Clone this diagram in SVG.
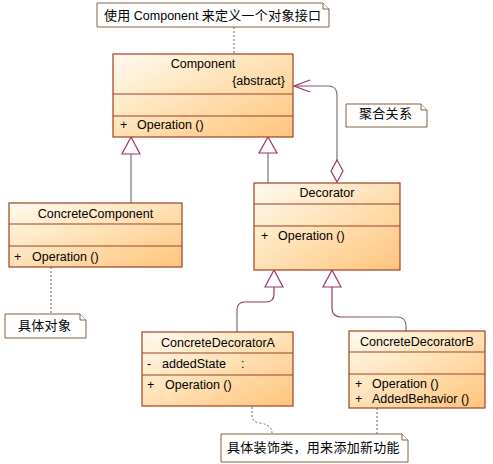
<svg xmlns="http://www.w3.org/2000/svg" width="493" height="464" viewBox="0 0 493 464">
<defs>
<linearGradient id="fill" x1="0" y1="0" x2="1" y2="1">
<stop offset="0" stop-color="#FFFAF0"/>
<stop offset="0.4" stop-color="#FFE6C0"/>
<stop offset="1" stop-color="#FFC47C"/>
</linearGradient>
<linearGradient id="gA" gradientUnits="userSpaceOnUse" x1="0" y1="287" x2="0" y2="332">
<stop offset="0" stop-color="#99336B"/><stop offset="0.4" stop-color="#99336B"/><stop offset="0.7" stop-color="#777"/><stop offset="1" stop-color="#777"/>
</linearGradient>
<linearGradient id="gB" gradientUnits="userSpaceOnUse" x1="332" y1="0" x2="406" y2="0">
<stop offset="0" stop-color="#99336B"/><stop offset="1" stop-color="#777"/>
</linearGradient>
<linearGradient id="gAgg" gradientUnits="userSpaceOnUse" x1="295" y1="0" x2="337" y2="0">
<stop offset="0" stop-color="#99336B"/><stop offset="1" stop-color="#777"/>
</linearGradient>
</defs>
<style>
.box{fill:url(#fill);stroke:#A0401E;stroke-width:1.2}
.sep{stroke:#A0401E;stroke-width:1.2}
.t{font-family:"Liberation Sans",Arial,sans-serif;font-size:12.5px;fill:#000}
.c{font-family:"Noto Sans CJK SC","Liberation Sans",sans-serif;font-size:13px;fill:#000;letter-spacing:0.3px}
.note{fill:#fff;stroke:#806040;stroke-width:1}
.line{fill:none;stroke:#777;stroke-width:1.2}
.tri{fill:#fff;stroke:#99336B;stroke-width:1.2}
.dot{fill:none;stroke:#666;stroke-width:1;stroke-dasharray:2,2}
</style>
<g id="connectors">
<line class="dot" x1="234" y1="27" x2="234" y2="54"/>
<line class="dot" x1="51" y1="267" x2="51" y2="314"/>
<path class="dot" d="M252 407 L252 416 Q252 422 260 423 Q272 425 272 433"/>
<line class="dot" x1="377" y1="408" x2="377" y2="434"/>
<line class="line" x1="131" y1="154" x2="131" y2="203"/>
<polygon class="tri" points="131,137 122,154 140,154"/>
<line class="line" x1="268" y1="153" x2="268" y2="183"/>
<polygon class="tri" points="268,137 259,153 277,153"/>
<path d="M274 287 L274 294 Q274 302 266 302 L245 302 Q237 302 237 310 L237 332" fill="none" stroke="url(#gA)" stroke-width="1.2"/>
<polygon class="tri" points="274,270 265,287 283,287"/>
<path d="M332 287 L332 308 Q332 317 341 317 L397 317 Q406 317 406 326 L406 331" fill="none" stroke="url(#gB)" stroke-width="1.2"/>
<polygon class="tri" points="332,270 323,287 341,287"/>
<path d="M294 86 L328 86 Q337 86 337 95 L337 160" fill="none" stroke="url(#gAgg)" stroke-width="1.2"/>
<polyline points="310,80 294,86 310,92" fill="none" stroke="#99336B" stroke-width="1.2"/>
<polygon points="337,160 343,171 337,182 331,171" fill="#fff" stroke="#99336B" stroke-width="1.2"/>
</g>
<g id="note-top">
<path class="note" d="M97 3 H323 L329 9 V27 H97 Z"/>
<path class="note" d="M323 3 V9 H329" fill="none"/>
<text x="104" y="20"><tspan class="c">使用 </tspan><tspan class="t">Component</tspan><tspan class="c"> 来定义一个对象接口</tspan></text>
</g>
<g id="Component">
<rect class="box" x="113" y="54" width="180" height="83"/>
<line class="sep" x1="113" y1="94" x2="293" y2="94"/>
<line class="sep" x1="113" y1="116" x2="293" y2="116"/>
<text class="t" x="203" y="68" text-anchor="middle">Component</text>
<text class="t" x="285" y="85" text-anchor="end">{abstract}</text>
<text class="t" x="120" y="129">+</text>
<text class="t" x="137" y="129">Operation ()</text>
</g>
<g id="note-agg">
<path class="note" d="M346 104 H421 L427 110 V127 H346 Z"/>
<path class="note" d="M421 104 V110 H427" fill="none"/>
<text class="c" x="359" y="118">聚合关系</text>
</g>
<g id="ConcreteComponent">
<rect class="box" x="9" y="203" width="173" height="64"/>
<line class="sep" x1="9" y1="224" x2="182" y2="224"/>
<line class="sep" x1="9" y1="246" x2="182" y2="246"/>
<text class="t" x="95.5" y="218" text-anchor="middle">ConcreteComponent</text>
<text class="t" x="14" y="261">+</text>
<text class="t" x="32" y="261">Operation ()</text>
</g>
<g id="Decorator">
<rect class="box" x="254" y="183" width="146" height="87"/>
<line class="sep" x1="254" y1="204" x2="400" y2="204"/>
<line class="sep" x1="254" y1="226" x2="400" y2="226"/>
<text class="t" x="327" y="197" text-anchor="middle">Decorator</text>
<text class="t" x="261" y="240">+</text>
<text class="t" x="278" y="240">Operation ()</text>
</g>
<g id="note-concrete">
<path class="note" d="M5 314 H80 L86 320 V338 H5 Z"/>
<path class="note" d="M80 314 V320 H86" fill="none"/>
<text class="c" x="18" y="330">具体对象</text>
</g>
<g id="ConcreteDecoratorA">
<rect class="box" x="142" y="332" width="151" height="74"/>
<line class="sep" x1="142" y1="353" x2="293" y2="353"/>
<line class="sep" x1="142" y1="375" x2="293" y2="375"/>
<text class="t" x="218" y="347" text-anchor="middle">ConcreteDecoratorA</text>
<text class="t" x="147" y="368">-</text>
<text class="t" x="162" y="368">addedState</text>
<text class="t" x="241" y="368">:</text>
<text class="t" x="147" y="389">+</text>
<text class="t" x="165" y="389">Operation ()</text>
</g>
<g id="ConcreteDecoratorB">
<rect class="box" x="349" y="331" width="136" height="77"/>
<line class="sep" x1="349" y1="352" x2="485" y2="352"/>
<line class="sep" x1="349" y1="374" x2="485" y2="374"/>
<text class="t" x="417" y="346" text-anchor="middle">ConcreteDecoratorB</text>
<text class="t" x="355" y="388">+</text>
<text class="t" x="372" y="388">Operation ()</text>
<text class="t" x="355" y="403">+</text>
<text class="t" x="372" y="403">AddedBehavior ()</text>
</g>
<g id="note-decorators">
<path class="note" d="M221 434 H402 L408 440 V462 H221 Z"/>
<path class="note" d="M402 434 V440 H408" fill="none"/>
<text class="c" x="227" y="452">具体装饰类，用来添加新功能</text>
</g>
</svg>
